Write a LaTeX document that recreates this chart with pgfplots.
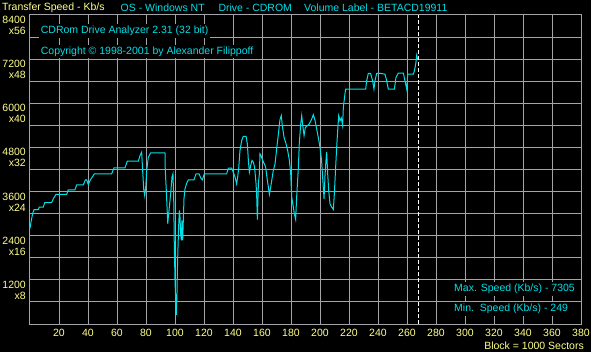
\documentclass[border=0pt]{standalone}
\usepackage{fontspec}
\setmainfont{Liberation Sans}
\usepackage{pgfplots}
\pgfplotsset{compat=1.18}
\definecolor{cdcyan}{RGB}{0,224,232}
\definecolor{cdyellow}{RGB}{255,255,140}
\definecolor{linegray}{rgb}{0.64,0.64,0.66}
\newcommand{\cdfont}{\fontsize{10.5bp}{11bp}\selectfont}
\begin{document}
\begin{tikzpicture}
\fill[black] (0bp,0bp) rectangle (591bp,352bp);
\path[use as bounding box] (0bp,0bp) rectangle (591bp,352bp);
\begin{axis}[
  at={(30bp,28bp)}, anchor=south west,
  scale only axis, width=551bp, height=309bp,
  xmin=0, xmax=380, ymin=0, ymax=8400,
  axis line style={draw=linegray, line width=1bp},
  xtick={20,40,...,380},
  ytick={1200,2400,...,8400},
  minor ytick={600,1800,...,7800},
  yticklabels={{1200\\x8},{2400\\x16},{3600\\x24},{4800\\x32},{6000\\x40},{7200\\x48},{8400\\x56}},
  grid=both,
  major grid style={draw=linegray, line width=1bp},
  minor grid style={draw=linegray, line width=1bp},
  major tick length=0pt, minor tick length=0pt,
  /pgf/number format/assume math mode=true,
  xticklabel style={text=cdyellow, font=\cdfont, inner sep=0pt, anchor=north, yshift=-5bp},
  yticklabel style={text=cdyellow, font=\cdfont, inner sep=0pt, align=right, anchor=north east, xshift=-4bp, yshift=-1bp},
  clip=false,
]
% grid lines along the axis
\pgfplotsinvokeforeach{20,40,...,360}{\addplot[draw=linegray, line width=1bp, forget plot] coordinates {(#1,0) (#1,8400)};}
\pgfplotsinvokeforeach{600,1200,...,7800}{\addplot[draw=linegray, line width=1bp, forget plot] coordinates {(0,#1) (380,#1)};}
\addplot[draw=linegray, line width=1bp, forget plot] coordinates {(0,0) (380,0) (380,8400) (0,8400) (0,0)};
% data
\addplot[cdcyan, line width=1bp, sharp plot, mark=none] coordinates {
(0,2600) (0.7,2773) (1.8,3000) (2.8,3107) (5.7,3107) (6.4,3180) (9.2,3180) (10.1,3297) (14.9,3297) (16.1,3405) (17.9,3523) (25.3,3523) (26.4,3649) (31.0,3649) (32.2,3785) (36.8,3785) (38.2,3920) (39.1,3920) (40.2,3785) (41.4,3902) (44.4,4083) (56.3,4083) (57.9,4245) (65.5,4245) (67.1,4426) (74.7,4426) (75.9,4580) (77.0,4670) (77.7,4173) (78.4,3676) (79.1,3496) (79.8,3721) (80.5,4173) (81.6,4534) (83.2,4652) (93.1,4652) (93.3,4173) (94.0,3631) (94.5,3180) (95.0,2728) (95.4,2908) (96.1,3180) (96.8,3450) (97.2,3631) (97.9,3992) (98.6,4083) (99.1,3450) (99.5,2186) (100.0,1192) (100.5,650) (100.9,249) (101.4,876) (101.8,1734) (102.5,2637) (103.0,3089) (103.4,2954) (103.9,2457) (104.4,2276) (104.8,2818) (105.3,2276) (105.8,2908) (106.2,3405) (106.9,3676) (108.1,3830) (109.2,3920) (113.1,3920) (114.5,4083) (116.6,4083) (117.7,3974) (118.9,3920) (120.2,4083) (135.6,4083) (136.8,4236) (139.1,4236) (140.2,4128) (141.4,3993) (142.5,3812) (143.2,3993) (143.9,4218) (144.8,4715) (146.0,4986) (147.1,5103) (149.0,5103) (149.9,4896) (150.6,4444) (151.3,4128) (152.2,4309) (153.1,4444) (154.0,4399) (154.9,4263) (155.9,3812) (156.3,3541) (156.8,2836) (157.5,3812) (158.2,4083) (158.6,4625) (159.3,4580) (160.5,4444) (161.6,4354) (162.5,4263) (163.7,3902) (164.4,3721) (165.1,3523) (166.0,3721) (166.7,3902) (167.8,4173) (169.0,4354) (170.1,4760) (171.3,5167) (172.4,5555) (173.3,5664) (174.0,5393) (175.2,5076) (176.6,4896) (177.7,4715) (178.9,4444) (179.8,4083) (180.5,3450) (181.6,3180) (182.3,2999) (183.2,2845) (183.9,3450) (185.1,4263) (185.7,4896) (186.7,5438) (187.4,5664) (188.0,5438) (189.0,5122) (189.9,5347) (191.3,5393) (192.6,5438) (194.3,5573) (195.4,5691) (196.6,5528) (197.7,5302) (198.8,5076) (200.0,4805) (201.1,4444) (201.8,3993) (202.8,3405) (203.4,3993) (204.1,4444) (204.6,4670) (205.3,4083) (206.0,3631) (206.9,3270) (208.0,3180) (209.2,3116) (209.9,3541) (210.8,4263) (211.5,4805) (212.2,5257) (212.9,5664) (213.8,5528) (214.7,5600) (215.6,5393) (216.1,5889) (217.2,6251) (217.7,6386) (231.5,6386) (232.2,6612) (233.3,6811) (234.9,6811) (236.3,6612) (237.2,6386) (237.9,6612) (239.1,6811) (240.2,6820) (244.8,6793) (246.0,6612) (247.1,6386) (251.3,6386) (252.4,6702) (254.0,6820) (257.5,6820) (258.6,6612) (259.8,6386) (260.5,6793) (264.4,6793) (265.1,6883) (266.0,7064) (266.7,7305) (267.3,7199)
};
\addplot[white, line width=0.8bp, dash pattern=on 4bp off 2bp, forget plot] coordinates {(267.8,0) (267.8,8400)};
\end{axis}
% header
\node[anchor=west, inner sep=0pt, text=cdyellow, font=\cdfont] at (2bp,344.5bp) {Transfer Speed - Kb/s};
\node[anchor=west, inner sep=0pt, text=cdcyan, font=\cdfont] at (120.5bp,344.5bp) {OS - Windows NT};
\node[anchor=west, inner sep=0pt, text=cdcyan, font=\cdfont] at (218.3bp,344.5bp) {Drive - CDROM};
\node[anchor=west, inner sep=0pt, text=cdcyan, font=\cdfont] at (304bp,344.5bp) {Volume Label - BETACD19911};
% inner labels
\node[anchor=west, fill=black, inner xsep=2bp, inner ysep=2bp, text=cdcyan, font=\cdfont] at (38.7bp,321bp) {CDRom Drive Analyzer 2.31 (32 bit)};
\node[anchor=west, fill=black, inner xsep=2bp, inner ysep=2bp, text=cdcyan, font=\cdfont] at (38.7bp,300.5bp) {Copyright \textcopyright{} 1998-2001 by Alexander Filippoff};
\node[anchor=west, fill=black, inner xsep=2bp, inner ysep=2bp, text=cdcyan, font=\cdfont] at (452bp,63bp) {Max. Speed (Kb/s) - 7305};
\node[anchor=west, fill=black, inner xsep=2bp, inner ysep=2bp, text=cdcyan, font=\cdfont] at (452bp,43bp) {Min.\ \ Speed (Kb/s) - 249};
\node[anchor=east, inner sep=0pt, text=cdyellow, font=\cdfont] at (584bp,6bp) {Block = 1000 Sectors};
\end{tikzpicture}
\end{document}
